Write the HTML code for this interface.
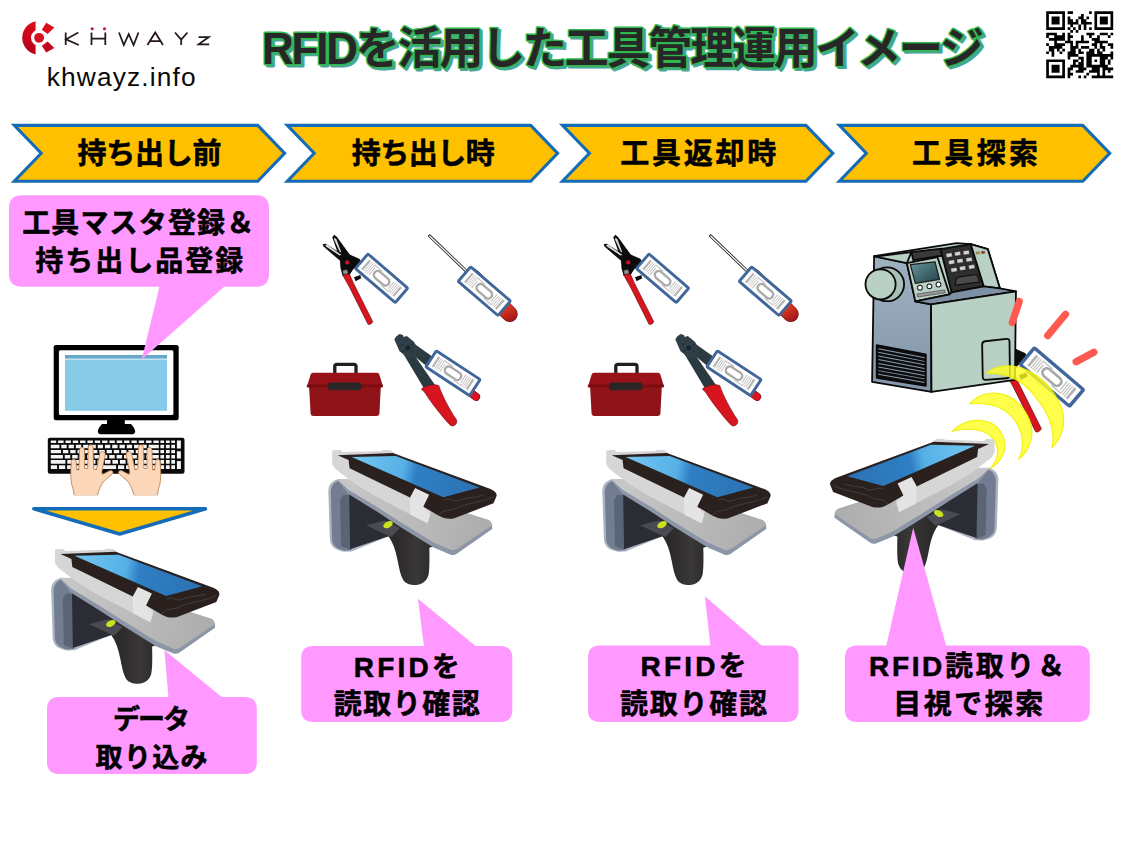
<!DOCTYPE html>
<html lang="ja"><head><meta charset="utf-8"><title>RFIDを活用した工具管理運用イメージ</title>
<style>
html,body{margin:0;padding:0;background:#fff;}
body{width:1121px;height:845px;overflow:hidden;position:relative;font-family:"Liberation Sans","Noto Sans CJK JP",sans-serif;}
#stage{position:absolute;left:0;top:0;width:1121px;height:845px;}
.url{position:absolute;left:46.8px;top:61.5px;font-size:26.3px;line-height:30px;letter-spacing:1.05px;color:#0a0a0a;white-space:nowrap;}
.sr{position:absolute;color:transparent;font-size:10px;line-height:10px;white-space:nowrap;overflow:hidden;width:1px;height:1px;}
</style></head><body>
<svg id="stage" width="1121" height="845" viewBox="0 0 1121 845">
<defs>
<linearGradient id="scrG" gradientUnits="userSpaceOnUse" x1="170" y1="120" x2="840" y2="250">
<stop offset="0" stop-color="#74c6f0"/><stop offset="0.40" stop-color="#55b0e6"/><stop offset="0.50" stop-color="#2f7fc4"/><stop offset="1" stop-color="#2b72b2"/>
</linearGradient>
<linearGradient id="hdlG" gradientUnits="userSpaceOnUse" x1="400" y1="600" x2="590" y2="600">
<stop offset="0" stop-color="#2b2929"/><stop offset="0.6" stop-color="#3a3737"/><stop offset="1" stop-color="#2c2a2a"/>
</linearGradient>
<linearGradient id="plateG" gradientUnits="userSpaceOnUse" x1="150" y1="250" x2="900" y2="480">
<stop offset="0" stop-color="#c6c6c6"/><stop offset="0.55" stop-color="#b9b9b9"/><stop offset="1" stop-color="#acacac"/>
</linearGradient>
<g id="scanner">
<!-- antenna housing -->
<path fill="#aab3c0" d="M95 207C60 214 44 240 44 272L52 520C54 560 78 582 128 590L166 588L362 508L362 300L165 207Z"/>
<path fill="#727d91" d="M100 215C74 222 57 246 57 276L64 524C66 558 90 577 134 585L166 581L166 215Z"/>
<path fill="#596476" d="M122 290L106 318L111 560L160 580L160 290Z"/>
<path fill="#2b2c34" d="M154 286L159 577L362 508L452 470L300 340Z"/>
<!-- handle -->
<path fill="url(#hdlG)" d="M330 430L360 507C385 540 398 580 410 637C418 680 425 715 440 740C455 760 480 766 507 765C535 763 560 750 572 715C580 690 578 600 577 569L605 560L420 430Z"/>
<path fill="#4a4a52" d="M244 450.5L343 425L422 465L377 512L309 481.5Z"/>
<ellipse cx="359" cy="447" rx="27" ry="16" transform="rotate(-27 359 447)" fill="#c9e21f"/>
<!-- lower plate: bluish edge then grey surface -->
<path fill="#8d96a6" d="M88 208L160 208L800 395L890 424C905 432 911 445 909 470L722 600C708 608 698 608 690 606L600 568L422 458L300 378L150 285Z"/>
<path fill="url(#plateG)" d="M88 206L160 206L800 393L890 422C903 430 908 440 906 452L722 576C708 583 698 583 690 580L600 541L422 431L300 353L150 262Z"/>
<!-- cradle -->
<path fill="#d6d6d6" d="M65 56L106 52L120 64L325 58L334 52L372 54L392 68L600 300L582 392L568 440L520 415L292 297L186 233L80 152L64 127Z"/>
<!-- phone -->
<path fill="#2a211f" d="M93 80L385 68L900 259C925 270 935 283 932 296L916 334L709 413C690 418 670 416 651 411L627 400L545 352L467 300L156 149L151 106Z"/>
<path fill="url(#scrG)" d="M167 90L400 84L842 251L651 302Z"/>
<path fill="none" stroke="#6b6462" stroke-width="2.2" d="M655 318C690 300 700 335 740 318C770 300 800 312 860 290M628 398C650 360 690 380 720 360C760 335 860 330 915 300"/>
<!-- strap -->
<path fill="#e4e4e4" d="M474 306L502 254L576 289L545 352L582 392L568 440L478 394Z"/>
</g>
</defs>

<rect width="1121" height="845" fill="#fff"/>
<g id="title" aria-label="RFIDを活用した工具管理運用イメージ" font-family="'Liberation Sans','Noto Sans CJK JP',sans-serif" font-weight="bold" font-size="44">
<text x="262" y="63.8" textLength="722" lengthAdjust="spacing" transform="translate(2.2,2.2)" fill="#4aa59b" stroke="#4aa59b" stroke-width="2.8" stroke-linejoin="round">RFIDを活用した工具管理運用イメージ</text>
<text x="262" y="63.8" textLength="722" lengthAdjust="spacing" fill="#272727" stroke="#2fb84d" stroke-width="3" stroke-linejoin="round" paint-order="stroke">RFIDを活用した工具管理運用イメージ</text>
</g>
<g id="logo">
<defs>
<linearGradient id="lgRed" x1="0.7" y1="0" x2="0.2" y2="1"><stop offset="0" stop-color="#e8101c"/><stop offset="1" stop-color="#b4001c"/></linearGradient>
<clipPath id="lgClip"><rect x="18" y="18" width="17.6" height="40"/></clipPath>
</defs>
<path clip-path="url(#lgClip)" fill="url(#lgRed)" fill-rule="evenodd" d="M39.1 20.9a16.9 16.9 0 1 0 0 33.8a16.9 16.9 0 1 0 0-33.8zM39.1 29.7a8.1 8.1 0 1 1 0 16.2a8.1 8.1 0 1 1 0-16.2z"/>
<circle cx="39.1" cy="37.8" r="4.9" fill="#d4101e"/>
<path fill="#dc0e1c" d="M46.2 22.8L54.3 27.5L47.7 33.9L41.8 29.7Z"/>
<path fill="#c4061c" d="M46.2 52.6L54.3 48L47.7 41.6L41.8 45.8Z"/>
<g fill="none" stroke="#231815" stroke-width="1.75" stroke-linejoin="miter">
<path d="M65.7 32.5V45M78.3 32.5L66 39.3L78.8 45"/>
<path d="M91.5 32.5V45M105.3 32.5V45M91.5 38.6H105.3"/>
<path d="M119 32.5L123.8 45L128.7 34.2L133.6 45L138.5 32.5"/>
<path d="M147.4 45L155.2 32.5L163 45M150 41.2H160.4"/>
<path d="M175 32.5L181.2 39.6L187.5 32.5M181.2 39.6V45"/>
<path d="M198.6 37H208.8L198.6 44.4H209.2"/>
</g>
<circle cx="92.2" cy="28.7" r="1.55" fill="#c8103a"/><circle cx="104.5" cy="28.7" r="1.55" fill="#c8103a"/>
</g>

<path id="qr" d="M1046.20 11.20h18.76v2.68h-18.76zM1067.64 11.20h5.36v2.68h-5.36zM1089.08 11.20h2.68v2.68h-2.68zM1094.44 11.20h18.76v2.68h-18.76zM1046.20 13.88h2.68v2.68h-2.68zM1062.28 13.88h2.68v2.68h-2.68zM1081.04 13.88h2.68v2.68h-2.68zM1094.44 13.88h2.68v2.68h-2.68zM1110.52 13.88h2.68v2.68h-2.68zM1046.20 16.56h2.68v2.68h-2.68zM1051.56 16.56h8.04v2.68h-8.04zM1062.28 16.56h2.68v2.68h-2.68zM1067.64 16.56h2.68v2.68h-2.68zM1078.36 16.56h5.36v2.68h-5.36zM1086.40 16.56h2.68v2.68h-2.68zM1094.44 16.56h2.68v2.68h-2.68zM1099.80 16.56h8.04v2.68h-8.04zM1110.52 16.56h2.68v2.68h-2.68zM1046.20 19.24h2.68v2.68h-2.68zM1051.56 19.24h8.04v2.68h-8.04zM1062.28 19.24h2.68v2.68h-2.68zM1067.64 19.24h5.36v2.68h-5.36zM1075.68 19.24h2.68v2.68h-2.68zM1081.04 19.24h5.36v2.68h-5.36zM1094.44 19.24h2.68v2.68h-2.68zM1099.80 19.24h8.04v2.68h-8.04zM1110.52 19.24h2.68v2.68h-2.68zM1046.20 21.92h2.68v2.68h-2.68zM1051.56 21.92h8.04v2.68h-8.04zM1062.28 21.92h2.68v2.68h-2.68zM1067.64 21.92h10.72v2.68h-10.72zM1081.04 21.92h10.72v2.68h-10.72zM1094.44 21.92h2.68v2.68h-2.68zM1099.80 21.92h8.04v2.68h-8.04zM1110.52 21.92h2.68v2.68h-2.68zM1046.20 24.60h2.68v2.68h-2.68zM1062.28 24.60h2.68v2.68h-2.68zM1070.32 24.60h2.68v2.68h-2.68zM1078.36 24.60h2.68v2.68h-2.68zM1083.72 24.60h2.68v2.68h-2.68zM1094.44 24.60h2.68v2.68h-2.68zM1110.52 24.60h2.68v2.68h-2.68zM1046.20 27.28h18.76v2.68h-18.76zM1067.64 27.28h2.68v2.68h-2.68zM1073.00 27.28h2.68v2.68h-2.68zM1078.36 27.28h2.68v2.68h-2.68zM1083.72 27.28h2.68v2.68h-2.68zM1089.08 27.28h2.68v2.68h-2.68zM1094.44 27.28h18.76v2.68h-18.76zM1070.32 29.96h2.68v2.68h-2.68zM1075.68 29.96h2.68v2.68h-2.68zM1046.20 32.64h10.72v2.68h-10.72zM1062.28 32.64h2.68v2.68h-2.68zM1067.64 32.64h2.68v2.68h-2.68zM1086.40 32.64h8.04v2.68h-8.04zM1099.80 32.64h8.04v2.68h-8.04zM1110.52 32.64h2.68v2.68h-2.68zM1046.20 35.32h2.68v2.68h-2.68zM1054.24 35.32h10.72v2.68h-10.72zM1067.64 35.32h5.36v2.68h-5.36zM1081.04 35.32h2.68v2.68h-2.68zM1089.08 35.32h2.68v2.68h-2.68zM1097.12 35.32h2.68v2.68h-2.68zM1107.84 35.32h2.68v2.68h-2.68zM1048.88 38.00h16.08v2.68h-16.08zM1067.64 38.00h2.68v2.68h-2.68zM1081.04 38.00h2.68v2.68h-2.68zM1091.76 38.00h8.04v2.68h-8.04zM1054.24 40.68h2.68v2.68h-2.68zM1064.96 40.68h8.04v2.68h-8.04zM1075.68 40.68h13.40v2.68h-13.40zM1094.44 40.68h13.40v2.68h-13.40zM1046.20 43.36h2.68v2.68h-2.68zM1054.24 43.36h10.72v2.68h-10.72zM1070.32 43.36h2.68v2.68h-2.68zM1075.68 43.36h2.68v2.68h-2.68zM1091.76 43.36h5.36v2.68h-5.36zM1099.80 43.36h2.68v2.68h-2.68zM1107.84 43.36h5.36v2.68h-5.36zM1048.88 46.04h13.40v2.68h-13.40zM1070.32 46.04h8.04v2.68h-8.04zM1081.04 46.04h8.04v2.68h-8.04zM1094.44 46.04h2.68v2.68h-2.68zM1099.80 46.04h5.36v2.68h-5.36zM1110.52 46.04h2.68v2.68h-2.68zM1048.88 48.72h5.36v2.68h-5.36zM1056.92 48.72h2.68v2.68h-2.68zM1062.28 48.72h2.68v2.68h-2.68zM1070.32 48.72h5.36v2.68h-5.36zM1078.36 48.72h2.68v2.68h-2.68zM1089.08 48.72h5.36v2.68h-5.36zM1097.12 48.72h2.68v2.68h-2.68zM1102.48 48.72h2.68v2.68h-2.68zM1046.20 51.40h2.68v2.68h-2.68zM1051.56 51.40h2.68v2.68h-2.68zM1059.60 51.40h2.68v2.68h-2.68zM1067.64 51.40h8.04v2.68h-8.04zM1078.36 51.40h5.36v2.68h-5.36zM1086.40 51.40h8.04v2.68h-8.04zM1097.12 51.40h5.36v2.68h-5.36zM1110.52 51.40h2.68v2.68h-2.68zM1051.56 54.08h2.68v2.68h-2.68zM1067.64 54.08h10.72v2.68h-10.72zM1086.40 54.08h26.80v2.68h-26.80zM1067.64 56.76h2.68v2.68h-2.68zM1078.36 56.76h5.36v2.68h-5.36zM1086.40 56.76h5.36v2.68h-5.36zM1099.80 56.76h8.04v2.68h-8.04zM1110.52 56.76h2.68v2.68h-2.68zM1046.20 59.44h18.76v2.68h-18.76zM1073.00 59.44h5.36v2.68h-5.36zM1081.04 59.44h2.68v2.68h-2.68zM1086.40 59.44h5.36v2.68h-5.36zM1094.44 59.44h2.68v2.68h-2.68zM1099.80 59.44h5.36v2.68h-5.36zM1107.84 59.44h2.68v2.68h-2.68zM1046.20 62.12h2.68v2.68h-2.68zM1062.28 62.12h2.68v2.68h-2.68zM1073.00 62.12h2.68v2.68h-2.68zM1078.36 62.12h5.36v2.68h-5.36zM1086.40 62.12h5.36v2.68h-5.36zM1099.80 62.12h5.36v2.68h-5.36zM1107.84 62.12h2.68v2.68h-2.68zM1046.20 64.80h2.68v2.68h-2.68zM1051.56 64.80h8.04v2.68h-8.04zM1062.28 64.80h2.68v2.68h-2.68zM1070.32 64.80h13.40v2.68h-13.40zM1086.40 64.80h21.44v2.68h-21.44zM1046.20 67.48h2.68v2.68h-2.68zM1051.56 67.48h8.04v2.68h-8.04zM1062.28 67.48h2.68v2.68h-2.68zM1067.64 67.48h5.36v2.68h-5.36zM1078.36 67.48h8.04v2.68h-8.04zM1091.76 67.48h8.04v2.68h-8.04zM1102.48 67.48h10.72v2.68h-10.72zM1046.20 70.16h2.68v2.68h-2.68zM1051.56 70.16h8.04v2.68h-8.04zM1062.28 70.16h2.68v2.68h-2.68zM1067.64 70.16h2.68v2.68h-2.68zM1075.68 70.16h8.04v2.68h-8.04zM1089.08 70.16h10.72v2.68h-10.72zM1102.48 70.16h2.68v2.68h-2.68zM1107.84 70.16h2.68v2.68h-2.68zM1046.20 72.84h2.68v2.68h-2.68zM1062.28 72.84h2.68v2.68h-2.68zM1067.64 72.84h5.36v2.68h-5.36zM1086.40 72.84h2.68v2.68h-2.68zM1097.12 72.84h2.68v2.68h-2.68zM1102.48 72.84h2.68v2.68h-2.68zM1046.20 75.52h18.76v2.68h-18.76zM1067.64 75.52h2.68v2.68h-2.68zM1078.36 75.52h2.68v2.68h-2.68zM1083.72 75.52h2.68v2.68h-2.68zM1091.76 75.52h21.44v2.68h-21.44z" fill="#000"/>
<g id="steps">
<path d="M14.3 125.35 L257.7 125.35 L284.6 153.3 L257.7 181.25 L14.3 181.25 L41.2 153.3 Z" fill="#FFC000" stroke="#146CB8" stroke-width="3.1" stroke-linejoin="miter"/>
<path d="M287.3 125.35 L530.7 125.35 L557.6 153.3 L530.7 181.25 L287.3 181.25 L314.2 153.3 Z" fill="#FFC000" stroke="#146CB8" stroke-width="3.1" stroke-linejoin="miter"/>
<path d="M562.5 125.35 L805.9 125.35 L832.8 153.3 L805.9 181.25 L562.5 181.25 L589.4 153.3 Z" fill="#FFC000" stroke="#146CB8" stroke-width="3.1" stroke-linejoin="miter"/>
<path d="M839.4 125.35 L1082.8 125.35 L1109.7 153.3 L1082.8 181.25 L839.4 181.25 L866.3 153.3 Z" fill="#FFC000" stroke="#146CB8" stroke-width="3.1" stroke-linejoin="miter"/>
<g font-family="'Liberation Sans','Noto Sans CJK JP',sans-serif" font-weight="bold" font-size="29" fill="#000" stroke="#000" stroke-width="0.55" stroke-linejoin="round" text-anchor="middle">
<text x="149.6" y="164" textLength="144" lengthAdjust="spacing">持ち出し前</text>
<text x="423.2" y="164" textLength="143" lengthAdjust="spacing">持ち出し時</text>
<text x="698.2" y="164" textLength="156" lengthAdjust="spacing">工具返却時</text>
<text x="975" y="164" textLength="126" lengthAdjust="spacing">工具探索</text>
</g>
</g>
<g id="pc">
<rect x="53.7" y="345" width="125" height="75.3" rx="2.2" fill="#000"/>
<rect x="58.9" y="350.3" width="114.5" height="64.8" rx="1.5" fill="#fdfdfd"/>
<rect x="65" y="355" width="102" height="55.8" fill="#87cbe9"/>
<rect x="65" y="355" width="102" height="3.7" fill="#69a8c8"/>
<rect x="65" y="358.7" width="102" height="0.9" fill="#e8f4fa"/>
<path fill="#000" d="M107 419.5H124.8V424H131C133.5 426.5 135 429 135.2 431.6C135.2 433.3 134 434.2 132.3 434.2H100.7C99 434.2 97.8 433.3 97.8 431.6C98 429 99.5 426.5 102 424H107Z"/>
<rect x="47.8" y="437.8" width="136.7" height="36" rx="2" fill="#0a0a0a"/>
<path fill="#f4f4f4" d="M50.8 440.4H56.2V443.0H50.8ZM58.1 440.4H63.6V443.0H58.1ZM65.5 440.4H70.9V443.0H65.5ZM72.8 440.4H78.2V443.0H72.8ZM80.1 440.4H85.5V443.0H80.1ZM87.4 440.4H92.9V443.0H87.4ZM94.8 440.4H100.2V443.0H94.8ZM102.1 440.4H107.5V443.0H102.1ZM109.4 440.4H114.8V443.0H109.4ZM116.7 440.4H122.2V443.0H116.7ZM124.1 440.4H129.5V443.0H124.1ZM131.4 440.4H136.8V443.0H131.4ZM138.7 440.4H144.1V443.0H138.7ZM146.0 440.4H151.5V443.0H146.0ZM153.4 440.4H158.8V443.0H153.4ZM50.8 444.7H59.4V448.2H50.8ZM61.3 444.7H66.7V448.2H61.3ZM68.6 444.7H73.9V448.2H68.6ZM75.8 444.7H81.2V448.2H75.8ZM83.1 444.7H88.5V448.2H83.1ZM90.4 444.7H95.8V448.2H90.4ZM97.7 444.7H103.0V448.2H97.7ZM104.9 444.7H110.3V448.2H104.9ZM112.2 444.7H117.6V448.2H112.2ZM119.5 444.7H124.9V448.2H119.5ZM126.8 444.7H132.1V448.2H126.8ZM134.0 444.7H139.4V448.2H134.0ZM141.3 444.7H146.7V448.2H141.3ZM148.6 444.7H158.8V448.2H148.6ZM50.8 449.9H61.0V453.3H50.8ZM62.9 449.9H68.3V453.3H62.9ZM70.2 449.9H75.6V453.3H70.2ZM77.5 449.9H82.8V453.3H77.5ZM84.7 449.9H90.1V453.3H84.7ZM92.0 449.9H97.4V453.3H92.0ZM99.3 449.9H104.7V453.3H99.3ZM106.6 449.9H111.9V453.3H106.6ZM113.8 449.9H119.2V453.3H113.8ZM121.1 449.9H126.5V453.3H121.1ZM128.4 449.9H133.8V453.3H128.4ZM135.7 449.9H141.0V453.3H135.7ZM142.9 449.9H148.3V453.3H142.9ZM150.2 449.9H158.8V453.3H150.2ZM50.8 454.9H62.9V458.5H50.8ZM64.8 454.9H70.3V458.5H64.8ZM72.2 454.9H77.7V458.5H72.2ZM79.6 454.9H85.1V458.5H79.6ZM87.0 454.9H92.5V458.5H87.0ZM94.4 454.9H99.9V458.5H94.4ZM101.8 454.9H107.3V458.5H101.8ZM109.2 454.9H114.7V458.5H109.2ZM116.6 454.9H122.1V458.5H116.6ZM124.0 454.9H129.5V458.5H124.0ZM131.4 454.9H136.9V458.5H131.4ZM138.8 454.9H144.3V458.5H138.8ZM146.2 454.9H158.8V458.5H146.2ZM50.8 460.0H65.4V463.7H50.8ZM67.3 460.0H72.9V463.7H67.3ZM74.8 460.0H80.4V463.7H74.8ZM82.3 460.0H88.0V463.7H82.3ZM89.9 460.0H95.5V463.7H89.9ZM97.4 460.0H103.0V463.7H97.4ZM104.9 460.0H110.5V463.7H104.9ZM112.4 460.0H118.0V463.7H112.4ZM119.9 460.0H125.6V463.7H119.9ZM127.5 460.0H133.1V463.7H127.5ZM135.0 460.0H140.6V463.7H135.0ZM142.5 460.0H158.8V463.7H142.5ZM50.8 465.2H57.1V468.9H50.8ZM59.0 465.2H65.2V468.9H59.0ZM67.1 465.2H73.4V468.9H67.1ZM75.3 465.2H81.6V468.9H75.3ZM83.5 465.2H116.1V468.9H83.5ZM118.0 465.2H124.2V468.9H118.0ZM126.1 465.2H132.4V468.9H126.1ZM134.3 465.2H140.6V468.9H134.3ZM142.5 465.2H148.8V468.9H142.5ZM150.7 465.2H158.8V468.9H150.7ZM160.4 440.4H164.1V443.0H160.4ZM165.9 440.4H169.7V443.0H165.9ZM171.3 440.4H175.0V443.0H171.3ZM160.4 444.7H164.1V448.2H160.4ZM165.9 444.7H169.7V448.2H165.9ZM171.3 444.7H175.0V448.2H171.3ZM160.4 449.9H164.1V453.3H160.4ZM165.9 449.9H169.7V453.3H165.9ZM171.3 449.9H175.0V453.3H171.3ZM160.4 454.9H164.1V458.5H160.4ZM165.9 454.9H169.7V458.5H165.9ZM171.3 454.9H175.0V458.5H171.3ZM160.4 460.0H164.1V463.7H160.4ZM165.9 460.0H169.7V463.7H165.9ZM171.3 460.0H175.0V463.7H171.3ZM160.4 465.2H164.1V468.9H160.4ZM165.9 465.2H169.7V468.9H165.9ZM171.3 465.2H175.0V468.9H171.3ZM176.9 440.4H180.9V448.4H176.9ZM176.9 451.2H180.9V458.6H176.9ZM176.9 461.0H180.9V468.9H176.9Z"/>
<g transform="translate(45,432) scale(0.12935)" fill="#fbd6b8" stroke="#b27a44" stroke-width="6" stroke-linejoin="round">
<path d="M225 492C222 450 210 420 205 400C200 360 198 320 200 290L204 228C206 205 238 205 240 228L246 292L262 292L267 138C269 112 304 112 305 138L306 282L330 282L334 118C336 92 371 92 372 118L376 285L398 292L424 168C430 142 470 150 466 176L440 305C440 320 440 325 445 328L498 300C520 292 535 312 520 325L450 385C430 420 415 450 405 492Z"/>
<path d="M225 492C222 450 210 420 205 400C200 360 198 320 200 290L204 228C206 205 238 205 240 228L246 292L262 292L267 138C269 112 304 112 305 138L306 282L330 282L334 118C336 92 371 92 372 118L376 285L398 292L424 168C430 142 470 150 466 176L440 305C440 320 440 325 445 328L498 300C520 292 535 312 520 325L450 385C430 420 415 450 405 492Z" transform="translate(1094,0) scale(-1,1)"/>
</g>
<rect x="70" y="495.4" width="95" height="3" fill="#fff"/>
</g>
<path id="down" d="M33.9 508.8H205.5L119.7 533.9Z" fill="#FFC000" stroke="#146CB8" stroke-width="3.6" stroke-linejoin="round"/><defs>
<linearGradient id="sdG" gradientUnits="userSpaceOnUse" x1="690" y1="610" x2="770" y2="740"><stop offset="0" stop-color="#e4431f"/><stop offset="1" stop-color="#9c0f18"/></linearGradient>
<g id="tag">
<rect x="-26.2" y="-9.6" width="52.4" height="19.2" rx="1.2" fill="#fff" stroke="#41669a" stroke-width="2.9"/>
<g fill="none" stroke="#b4b4b4">
<path stroke-width="2.2" d="M-20.4 -6V6M20.4 -6V6"/>
<path stroke-width="0.9" stroke="#c0c0c0" d="M-17.8 -6V6M-15.9 -6V6M-14 -6V6M17.8 -6V6M15.9 -6V6M14 -6V6"/>
<path stroke-width="1" stroke="#bdbdbd" d="M-14 -5.7H-4M14 5.7H4M-11.8 -3.6V5.8M11.8 3.6V-5.8"/>
<rect x="-9" y="-3.9" width="18" height="7.8" rx="3.7" stroke-width="2.3" stroke="#a9a9a9"/>
</g>
</g>
<g id="snips">
<path fill="#0c0c0c" d="M186 74L171 94L222 238L300 292L322 250L206 90Z"/>
<path fill="#dcdcdc" d="M188 97L185 112L228 206L241 211L202 107Z"/>
<path fill="#0c0c0c" d="M97 147L104 166L233 277L292 302L272 240L121 144Z"/>
<path fill="#dcdcdc" d="M116 155L125 167L246 247L256 241L131 150Z"/>
<path fill="#0c0c0c" d="M228 232L300 224L378 260L402 292L332 340L302 388L250 388L234 330Z"/>
<path fill="#0c0c0c" d="M338 402L386 384L394 410L350 432Z"/>
<circle cx="286" cy="287" r="17" fill="#c8102e"/>
<path fill="#8e8e8e" stroke="#3c3c3c" stroke-width="3" d="M252 350L280 342L294 362L282 380L256 378Z"/>
<path fill="#d8141e" stroke="#4a0a0c" stroke-width="4" stroke-linejoin="round" d="M250 384L302 374L332 442L482 742C478 760 456 770 445 762L300 472Z"/>
</g>
<g id="screwdriver">
<path d="M112 84L392 352" stroke="#2a2a2a" stroke-width="23" stroke-linecap="round" fill="none"/>
<path d="M114 86L392 352" stroke="#fff" stroke-width="9.5" stroke-linecap="round" fill="none"/>
<path d="M440 395L728 684" stroke="#5a0c0c" stroke-width="122" stroke-linecap="round" fill="none"/>
<path d="M440 395L728 684" stroke="url(#sdG)" stroke-width="114" stroke-linecap="round" fill="none"/>
</g>
<g id="crimper">
<path d="M600 452L738 552" stroke="#5a0a0c" stroke-width="62" stroke-linecap="round" fill="none"/>
<path d="M600 452L738 552" stroke="#d8151f" stroke-width="54" stroke-linecap="round" fill="none"/>
<path fill="#2b3940" d="M255 138L388 232L470 330L420 372L345 306L268 242Z"/>
<path fill="#2b3940" d="M174 214L266 234L424 462L336 484Z"/>
<path fill="#2f3e47" d="M110 112L124 88L150 70L176 76L182 92L206 84L262 130L292 190L272 242L214 252L150 202Z"/>
<circle cx="213" cy="177" r="19" fill="#1a2329"/><circle cx="170" cy="150" r="6" fill="#1a2329"/><circle cx="250" cy="205" r="6" fill="#1a2329"/><circle cx="180" cy="200" r="6" fill="#1a2329"/><circle cx="246" cy="150" r="6" fill="#1a2329"/>
<path fill="#d8151f" stroke="#5a0a0c" stroke-width="4" stroke-linejoin="round" d="M318 494C330 468 424 450 452 466C478 540 528 640 588 728C600 762 562 790 538 768C476 702 396 602 341 514Z"/>
</g>
<g id="toolbox">
<path d="M334.8 373V366.2Q334.8 364.3 337 364.3H354Q356 364.3 356 366.2V373" fill="none" stroke="#231f20" stroke-width="3.3"/>
<path fill="#9a1219" d="M310.4 375.2Q310.6 372.7 313 372.7H377Q379.4 372.7 379.6 375.2L382.7 385.4H307.3Z"/>
<path fill="#8f1319" d="M309.1 387H380.8L379.4 413.8Q379.2 415.9 377 415.9H313Q310.8 415.9 310.6 413.8Z"/>
<rect x="306.8" y="384.4" width="76.2" height="3.2" rx="1.4" fill="#7a0c12"/>
<rect x="328" y="382.6" width="33.4" height="7.6" rx="2.6" fill="#2a2526"/>
</g>
<g id="toolset">
<use href="#snips" transform="translate(310,225) scale(0.13016)"/>
<use href="#tag" transform="translate(381.6,278.3) rotate(40.6)"/>
<use href="#screwdriver" transform="translate(415,225) scale(0.13016)"/>
<use href="#tag" transform="translate(484.3,291.2) rotate(40.6)"/>
<use href="#crimper" transform="translate(380,325) scale(0.13016)"/>
<use href="#tag" transform="translate(453,373.2) rotate(33.3)"/>
<use href="#toolbox"/>
</g>
</defs>
<use href="#toolset"/>
<use href="#toolset" transform="translate(281,0)"/>
<use href="#snips" transform="translate(966,312.5) scale(0.15619)"/>
<defs><linearGradient id="mSide" x1="0" y1="0" x2="0" y2="1"><stop offset="0" stop-color="#9fb1c1"/><stop offset="1" stop-color="#8295a9"/></linearGradient><linearGradient id="mScr" x1="0" y1="0" x2="1" y2="1"><stop offset="0" stop-color="#6a979b"/><stop offset="1" stop-color="#1f3f49"/></linearGradient></defs>
<g id="machine" transform="translate(855,230) scale(0.20118)" stroke="#0a0a0a" stroke-width="9" stroke-linejoin="round">
<path fill="#b9d0c5" d="M95 130L505 65L575 70L660 95L720 290L300 355L258 165Z"/>
<path fill="url(#mSide)" d="M95 130L258 165L300 355L378 370L380 805L85 755Z"/>
<path fill="#b9d0c5" d="M100 132L280 110L258 165Z"/>
<path fill="#3a3a3a" d="M280 110L430 93L432 128L290 150Z"/>
<path fill="#b9d0c5" d="M258 165L410 135L470 320L300 355Z"/>
<path fill="#2e2e2e" d="M425 95L575 70L640 280L480 310Z"/>
<path fill="#b9d0c5" d="M575 70L660 95L720 290L640 280Z"/>
<path fill="#7e90a4" d="M300 355L470 320L480 310L640 280L720 290L800 305L378 370Z"/>
<path fill="#b9d0c5" d="M378 370L800 305L795 745L380 805Z"/>
<circle cx="160" cy="270" r="84" fill="#a9c0b6"/>
<circle cx="127" cy="270" r="75" fill="#b9d0c5"/>
<path fill="#0d0d0d" d="M108 572L352 618L352 775L108 735Z"/>
<path fill="none" stroke="#8a9db0" stroke-width="5" d="M116 590L346 635M116 608L346 653M116 626L346 670M116 644L346 688M116 663L346 705M116 681L346 723M116 699L346 740M116 717L346 758"/>
<path fill="none" d="M647 553L753 541Q768 540 768 555L770 720Q770 736 755 737L650 745Q635 746 635 730L632 570Q632 555 647 553Z"/>
<path fill="url(#mScr)" stroke="#1a1a1a" stroke-width="6" d="M275 172L398 158L420 245L300 265Z"/>
<g fill="#fff" stroke="#1a1a1a" stroke-width="5"><circle cx="323" cy="287" r="12"/><circle cx="370" cy="280" r="12"/><circle cx="415" cy="271" r="12"/></g>
<path fill="#9b9b9b" stroke="#333" stroke-width="3" d="M308 318L445 298L448 312L312 333Z"/>
<g fill="#d2d2d2" stroke="#111" stroke-width="2"><rect x="453" y="115" width="30" height="20" rx="3" transform="rotate(-9 468 125)"/><rect x="495" y="108" width="30" height="20" rx="3" transform="rotate(-9 510 118)"/><rect x="538" y="102" width="30" height="20" rx="3" transform="rotate(-9 553 112)"/><rect x="465" y="150" width="30" height="20" rx="3" transform="rotate(-9 480 160)"/><rect x="507" y="143" width="30" height="20" rx="3" transform="rotate(-9 522 153)"/><rect x="552" y="137" width="30" height="20" rx="3" transform="rotate(-9 567 147)"/><rect x="477" y="188" width="30" height="20" rx="3" transform="rotate(-9 492 198)"/><rect x="520" y="180" width="30" height="20" rx="3" transform="rotate(-9 535 190)"/><rect x="565" y="173" width="30" height="20" rx="3" transform="rotate(-9 580 183)"/></g>
<path fill="#4a4a4a" stroke="#0a0a0a" stroke-width="5" d="M498 275L503 246Q506 236 518 234L596 222Q608 221 611 232L618 258Z"/>
<rect x="603" y="109" width="15" height="10" fill="#e0b020" stroke="#333" stroke-width="2" transform="rotate(-5 610 114)"/>
<rect x="629" y="106" width="15" height="10" fill="#d02020" stroke="#333" stroke-width="2" transform="rotate(-5 636 111)"/>
</g>
<use href="#tag" transform="translate(1051.9,377.1) rotate(40.3) scale(1.23,1.14)"/>
<path fill="none" stroke="#ff5a52" stroke-width="7.2" stroke-linecap="round" d="M1019.3 301.3L1012.2 322.6M1065.5 314.3L1047.7 335.6M1093.9 352.2L1076.1 361.7"/>
<path id="waves" transform="translate(930,340) scale(0.16576)" d="M340 200C460 100 690 170 790 400C830 500 790 600 735 650C760 560 720 440 640 350C570 250 470 195 340 200ZM240 385C330 280 510 300 590 460C640 550 610 660 535 720C575 640 560 540 500 470C440 400 350 375 240 385ZM135 550C220 460 380 460 435 570C475 650 440 730 365 775C415 720 420 650 385 600C340 540 240 525 135 550Z" fill="#ffff1e" fill-opacity="0.8" stroke="#eeee00" stroke-opacity="0.9" stroke-width="7" stroke-linejoin="round"/><g id="scanners">
<use href="#scanner" transform="translate(42.8,538.8) scale(0.18943)"/>
<use href="#scanner" transform="translate(320,440) scale(0.18943)"/>
<use href="#scanner" transform="translate(594,440) scale(0.18943)"/>
<use href="#scanner" transform="translate(1049.5,0) scale(-1,1) translate(42.8,428.8) scale(0.18943)"/>
</g>

<g id="callouts" fill="#FF99FF">
<path d="M22 195.3 H256 Q269 195.3 269 208.3 V273.7 Q269 286.7 256 286.7 H22 Q9 286.7 9 273.7 V208.3 Q9 195.3 22 195.3 Z"/><path d="M160.6 282 L141.7 359.6 L229.6 282 Z"/>
<path d="M59 697 H244.8 Q256.8 697 256.8 709 V762 Q256.8 774 244.8 774 H59 Q47 774 47 762 V709 Q47 697 59 697 Z"/><path d="M168.8 701 L164.4 650 L226.5 701 Z"/>
<path d="M313.2 646 H500.29999999999995 Q512.3 646 512.3 658 V710 Q512.3 722 500.29999999999995 722 H313.2 Q301.2 722 301.2 710 V658 Q301.2 646 313.2 646 Z"/><path d="M424.5 650 L417.9 598.7 L480.4 650 Z"/>
<path d="M600 645.5 H786.5 Q798.5 645.5 798.5 657.5 V710 Q798.5 722 786.5 722 H600 Q588 722 588 710 V657.5 Q588 645.5 600 645.5 Z"/><path d="M710.9 650 L704.9 596.2 L766.8 650 Z"/>
<path d="M857 645.5 H1077.8 Q1089.8 645.5 1089.8 657.5 V710 Q1089.8 722 1077.8 722 H857 Q845 722 845 710 V657.5 Q845 645.5 857 645.5 Z"/><path d="M885.3 650 L913.2 527.7 L947.3 650 Z"/>
</g>

<g id="labels" font-family="'Liberation Sans','Noto Sans CJK JP',sans-serif" font-weight="bold" font-size="28" fill="#000" stroke="#000" stroke-width="0.55" stroke-linejoin="round" text-anchor="middle">
<text x="138.2" y="233" textLength="232" lengthAdjust="spacing">工具マスタ登録＆</text>
<text x="139.2" y="271" textLength="208" lengthAdjust="spacing">持ち出し品登録</text>
<text x="151.4" y="729" font-size="27" textLength="77" lengthAdjust="spacing">データ</text>
<text x="151.6" y="767" font-size="27" textLength="112" lengthAdjust="spacing">取り込み</text>
<text x="406.8" y="677" textLength="106" lengthAdjust="spacing">RFIDを</text>
<text x="406.8" y="714" textLength="146" lengthAdjust="spacing">読取り確認</text>
<text x="693.6" y="676.2" textLength="106" lengthAdjust="spacing">RFIDを</text>
<text x="693.6" y="713.5" textLength="147" lengthAdjust="spacing">読取り確認</text>
<text x="967" y="676.2" textLength="196" lengthAdjust="spacing">RFID読取り＆</text>
<text x="968.3" y="713.5" textLength="150" lengthAdjust="spacing">目視で探索</text>
</g>
<text x="46.7" y="85.5" font-family="Liberation Sans, sans-serif" font-size="26.3" fill="#0a0a0a" textLength="149" lengthAdjust="spacing">khwayz.info</text>
</svg>
<div class="sr">RFIDを活用した工具管理運用イメージ / 持ち出し前 / 持ち出し時 / 工具返却時 / 工具探索 / 工具マスタ登録＆持ち出し品登録 / データ取り込み / RFIDを読取り確認 / RFIDを読取り確認 / RFID読取り＆目視で探索</div>
</body></html>
